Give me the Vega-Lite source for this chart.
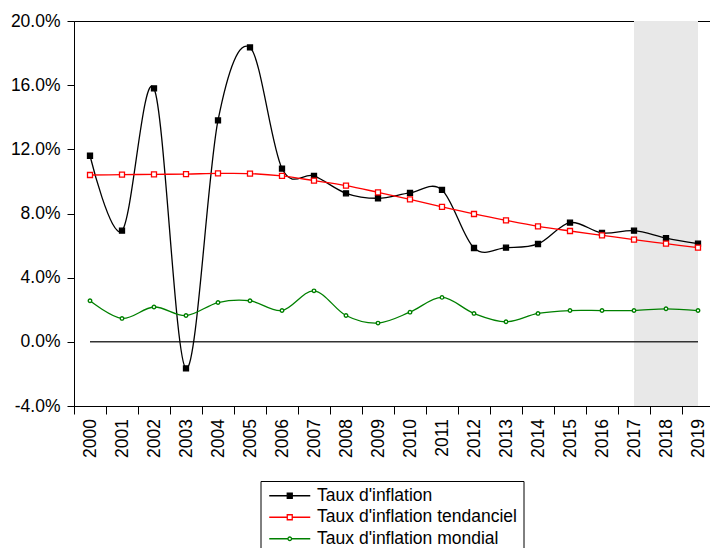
{
  "$schema": "https://vega.github.io/schema/vega-lite/v6.json",
  "width": 640,
  "height": 385,
  "autosize": {"type": "none"},
  "padding": {"left": 74, "top": 21, "right": -4, "bottom": 142},
  "background": "white",
  "config": {
    "view": {"stroke": "black", "strokeWidth": 1},
    "font": "Liberation Sans",
    "axis": {"labelFont": "Liberation Sans", "labelFontSize": 17.5, "labelColor": "black", "tickColor": "black", "domainColor": "black", "grid": false, "title": null}
  },
  "data": {
    "values": [
      {"year": 2000, "series": "Taux d'inflation", "value": 11.6},
      {"year": 2001, "series": "Taux d'inflation", "value": 6.93},
      {"year": 2002, "series": "Taux d'inflation", "value": 15.8},
      {"year": 2003, "series": "Taux d'inflation", "value": -1.66},
      {"year": 2004, "series": "Taux d'inflation", "value": 13.8},
      {"year": 2005, "series": "Taux d'inflation", "value": 18.35},
      {"year": 2006, "series": "Taux d'inflation", "value": 10.8},
      {"year": 2007, "series": "Taux d'inflation", "value": 10.34},
      {"year": 2008, "series": "Taux d'inflation", "value": 9.26},
      {"year": 2009, "series": "Taux d'inflation", "value": 8.95},
      {"year": 2010, "series": "Taux d'inflation", "value": 9.28},
      {"year": 2011, "series": "Taux d'inflation", "value": 9.47},
      {"year": 2012, "series": "Taux d'inflation", "value": 5.85},
      {"year": 2013, "series": "Taux d'inflation", "value": 5.87},
      {"year": 2014, "series": "Taux d'inflation", "value": 6.1},
      {"year": 2015, "series": "Taux d'inflation", "value": 7.43},
      {"year": 2016, "series": "Taux d'inflation", "value": 6.79},
      {"year": 2017, "series": "Taux d'inflation", "value": 6.93},
      {"year": 2018, "series": "Taux d'inflation", "value": 6.47},
      {"year": 2019, "series": "Taux d'inflation", "value": 6.12},
      {"year": 2000, "series": "Taux d'inflation tendanciel", "value": 10.4},
      {"year": 2001, "series": "Taux d'inflation tendanciel", "value": 10.42},
      {"year": 2002, "series": "Taux d'inflation tendanciel", "value": 10.44},
      {"year": 2003, "series": "Taux d'inflation tendanciel", "value": 10.46},
      {"year": 2004, "series": "Taux d'inflation tendanciel", "value": 10.5},
      {"year": 2005, "series": "Taux d'inflation tendanciel", "value": 10.49},
      {"year": 2006, "series": "Taux d'inflation tendanciel", "value": 10.34},
      {"year": 2007, "series": "Taux d'inflation tendanciel", "value": 10.05},
      {"year": 2008, "series": "Taux d'inflation tendanciel", "value": 9.74},
      {"year": 2009, "series": "Taux d'inflation tendanciel", "value": 9.32},
      {"year": 2010, "series": "Taux d'inflation tendanciel", "value": 8.88},
      {"year": 2011, "series": "Taux d'inflation tendanciel", "value": 8.41},
      {"year": 2012, "series": "Taux d'inflation tendanciel", "value": 7.97},
      {"year": 2013, "series": "Taux d'inflation tendanciel", "value": 7.57},
      {"year": 2014, "series": "Taux d'inflation tendanciel", "value": 7.2},
      {"year": 2015, "series": "Taux d'inflation tendanciel", "value": 6.91},
      {"year": 2016, "series": "Taux d'inflation tendanciel", "value": 6.64},
      {"year": 2017, "series": "Taux d'inflation tendanciel", "value": 6.37},
      {"year": 2018, "series": "Taux d'inflation tendanciel", "value": 6.12},
      {"year": 2019, "series": "Taux d'inflation tendanciel", "value": 5.87},
      {"year": 2000, "series": "Taux d'inflation mondial", "value": 2.56},
      {"year": 2001, "series": "Taux d'inflation mondial", "value": 1.46},
      {"year": 2002, "series": "Taux d'inflation mondial", "value": 2.17},
      {"year": 2003, "series": "Taux d'inflation mondial", "value": 1.64},
      {"year": 2004, "series": "Taux d'inflation mondial", "value": 2.45},
      {"year": 2005, "series": "Taux d'inflation mondial", "value": 2.56},
      {"year": 2006, "series": "Taux d'inflation mondial", "value": 1.95},
      {"year": 2007, "series": "Taux d'inflation mondial", "value": 3.18},
      {"year": 2008, "series": "Taux d'inflation mondial", "value": 1.64},
      {"year": 2009, "series": "Taux d'inflation mondial", "value": 1.17},
      {"year": 2010, "series": "Taux d'inflation mondial", "value": 1.85},
      {"year": 2011, "series": "Taux d'inflation mondial", "value": 2.77},
      {"year": 2012, "series": "Taux d'inflation mondial", "value": 1.77},
      {"year": 2013, "series": "Taux d'inflation mondial", "value": 1.25},
      {"year": 2014, "series": "Taux d'inflation mondial", "value": 1.77},
      {"year": 2015, "series": "Taux d'inflation mondial", "value": 1.95},
      {"year": 2016, "series": "Taux d'inflation mondial", "value": 1.95},
      {"year": 2017, "series": "Taux d'inflation mondial", "value": 1.95},
      {"year": 2018, "series": "Taux d'inflation mondial", "value": 2.06},
      {"year": 2019, "series": "Taux d'inflation mondial", "value": 1.95}
    ]
  },
  "encoding": {
    "x": {
      "field": "year", "type": "ordinal",
      "scale": {"type": "band", "paddingInner": 0, "paddingOuter": 0},
      "axis": {"labelAngle": 270, "tickBand": "extent", "tickSize": 8, "labelPadding": 4.5, "labelAlign": "right", "labelBaseline": "middle"}
    }
  },
  "layer": [
    {
      "transform": [{"filter": "datum.series === 'Taux d\\'inflation' && datum.year === 2018"}],
      "mark": {"type": "bar", "color": "#e8e8e8", "width": {"band": 2}},
      "encoding": {
        "y": {"datum": 20, "type": "quantitative", "scale": {"domain": [-4, 20], "nice": false, "zero": false},
          "axis": {"values": [-4, 0, 4, 8, 12, 16, 20], "tickSize": 7, "labelPadding": 7, "labelExpr": "(datum.value < 0 ? '-' : '') + format(abs(datum.value), '.1f') + '%'"}},
        "y2": {"datum": -4}
      }
    },
    {
      "transform": [{"filter": "datum.series === 'Taux d\\'inflation'"}],
      "mark": {"type": "line", "color": "#333333", "strokeWidth": 1.5},
      "encoding": {
        "y": {"datum": 0, "type": "quantitative"}
      }
    },
    {
      "mark": {"type": "line", "interpolate": "cardinal", "tension": 0, "strokeWidth": 1.3},
      "encoding": {
        "y": {"field": "value", "type": "quantitative"},
        "color": {
          "field": "series", "type": "nominal",
          "scale": {"domain": ["Taux d'inflation", "Taux d'inflation tendanciel", "Taux d'inflation mondial"], "range": ["#000000", "#ff0000", "#008000"]},
          "legend": {
            "title": null, "orient": "none", "direction": "vertical", "legendX": 186.5, "legendY": 460,
            "strokeColor": "black", "fillColor": "white", "padding": 6, "rowPadding": 2.5,
            "labelFont": "Liberation Sans", "labelFontSize": 17.5, "labelColor": "black", "labelLimit": 400,
            "symbolSize": 49, "symbolStrokeWidth": 1.3, "symbolOffset": 14.5, "labelOffset": 18.6,
            "symbolType": "M-5.86,0L-0.71,0M0.71,0L5.86,0M-0.71,-0.71L0.71,-0.71L0.71,0.71L-0.71,0.71Z",
            "encoding": {
              "symbols": {
                "shape": {"value": {"expr": "indexof(datum.value, 'mondial') >= 0 ? 'M-5.86,0L-0.5,0M0.5,0L5.86,0M0.5,0A0.5,0.5,0,1,1,-0.5,0A0.5,0.5,0,1,1,0.5,0Z' : 'M-5.86,0L-0.71,0M0.71,0L5.86,0M-0.71,-0.71L0.71,-0.71L0.71,0.71L-0.71,0.71Z'"}},
                "fill": {"value": {"expr": "(indexof(datum.value, 'mondial') >= 0 || indexof(datum.value, 'tendanciel') >= 0) ? '#ffffff' : '#000000'"}}
              }
            }
          }
        }
      }
    },
    {
      "transform": [{"filter": "datum.series === 'Taux d\\'inflation'"}],
      "mark": {"type": "point", "shape": "square", "filled": true, "fill": "#000000", "stroke": "#000000", "strokeWidth": 1.3, "size": 25, "opacity": 1},
      "encoding": {"y": {"field": "value", "type": "quantitative"}}
    },
    {
      "transform": [{"filter": "datum.series === 'Taux d\\'inflation tendanciel'"}],
      "mark": {"type": "point", "shape": "square", "fill": "#ffffff", "stroke": "#ff0000", "strokeWidth": 1.3, "size": 25, "opacity": 1},
      "encoding": {"y": {"field": "value", "type": "quantitative"}}
    },
    {
      "transform": [{"filter": "datum.series === 'Taux d\\'inflation mondial'"}],
      "mark": {"type": "point", "shape": "circle", "fill": "#ffffff", "stroke": "#008000", "strokeWidth": 1.4, "size": 12, "opacity": 1},
      "encoding": {"y": {"field": "value", "type": "quantitative"}}
    }
  ]
}
